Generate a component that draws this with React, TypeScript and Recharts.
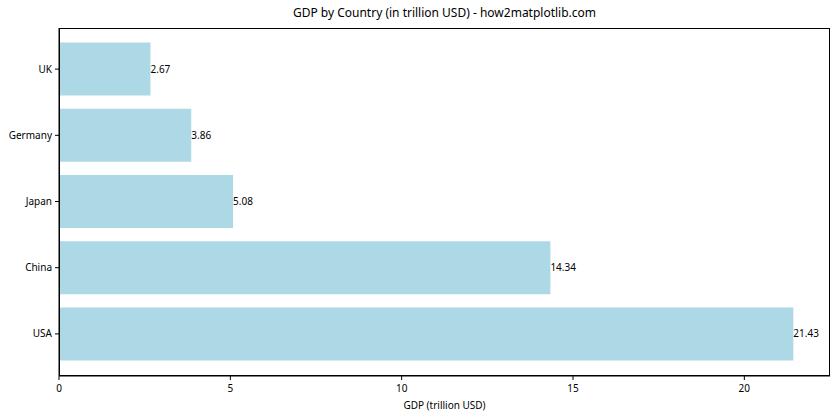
import { BarChart, Bar, XAxis, YAxis, LabelList } from "recharts"

const countries = ["USA", "China", "Japan", "Germany", "UK"]
const gdp = [21.43, 14.34, 5.08, 3.86, 2.67]
const xTicks = [0, 5, 10, 15, 20]

const data = countries.map((country, i) => ({ country, gdp: gdp[i] }))

const font = "'Noto Sans', 'Open Sans', sans-serif"
const tickStyle = { fontSize: 10, fill: "#000", fontFamily: font }

export default function App() {
  return (
    <div style={{ position: "relative", width: 840, height: 420, background: "#fff", fontFamily: font }}>
      <style>{"body{margin:0}"}</style>
      <div
        style={{
          position: "absolute",
          left: 59,
          width: 771,
          top: 5,
          textAlign: "center",
          fontSize: 12,
          lineHeight: "16px",
          color: "#000",
        }}
      >
        GDP by Country (in trillion USD) - how2matplotlib.com
      </div>
      <BarChart
        width={840}
        height={420}
        data={data}
        layout="vertical"
        barCategoryGap="10%"
        margin={{ top: 28, right: 10, bottom: 0, left: 8 }}
      >
        <XAxis
          type="number"
          domain={[0, 22.5]}
          ticks={xTicks}
          allowDataOverflow
          height={44}
          stroke="#000"
          tickSize={4}
          tickMargin={5}
          tick={tickStyle}
          label={{ value: "GDP (trillion USD)", position: "insideBottom", offset: 11, fontSize: 10, fill: "#000", fontFamily: font }}
        />
        <YAxis
          type="category"
          dataKey="country"
          reversed
          width={51}
          stroke="#000"
          tickSize={4}
          tickMargin={3}
          tick={tickStyle}
          padding={{ top: 8, bottom: 9 }}
        />
        <Bar dataKey="gdp" fill="#add8e6" isAnimationActive={false}>
          <LabelList dataKey="gdp" position="right" offset={0} style={{ fontSize: 10, fill: "#000", fontFamily: font }} />
        </Bar>
      </BarChart>
      {/* axes frame, matplotlib style */}
      <div
        style={{
          position: "absolute",
          left: 59,
          top: 28,
          width: 771,
          height: 348,
          border: "1px solid #000",
          boxSizing: "border-box",
          pointerEvents: "none",
        }}
      />
    </div>
  )
}
